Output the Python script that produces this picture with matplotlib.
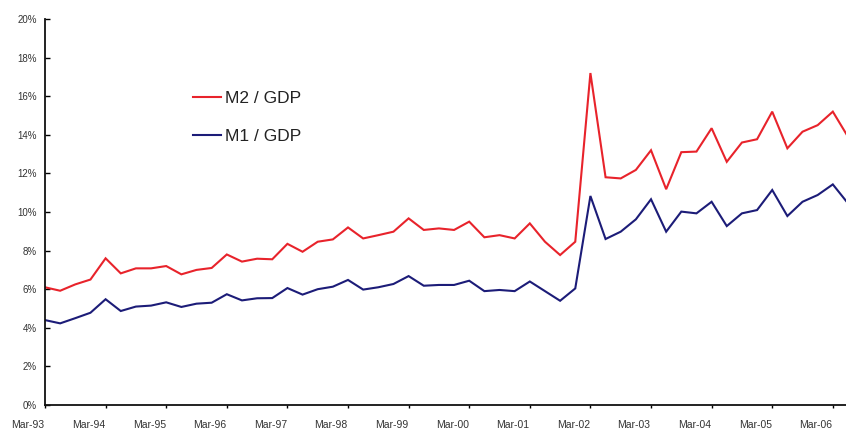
import matplotlib
matplotlib.use("Agg")
import matplotlib.pyplot as plt
from matplotlib.transforms import ScaledTranslation

plt.rcParams['font.family'] = ['Liberation Sans', 'DejaVu Sans']

years = ['93', '94', '95', '96', '97', '98', '99', '00', '01', '02', '03', '04', '05', '06']
months = ['Mar', 'Jun', 'Sep', 'Dec']
quarters = [f'{m}-{y}' for y in years for m in months][:54]

m2_gdp = [6.10, 5.92, 6.25, 6.50, 7.60, 6.82, 7.08, 7.08, 7.20, 6.77,
          7.00, 7.10, 7.80, 7.43, 7.58, 7.55, 8.35, 7.94, 8.46, 8.58,
          9.20, 8.63, 8.80, 8.98, 9.67, 9.07, 9.15, 9.07, 9.50, 8.69,
          8.80, 8.63, 9.41, 8.46, 7.77, 8.46, 17.20, 11.80, 11.74, 12.18,
          13.20, 11.18, 13.10, 13.13, 14.34, 12.60, 13.60, 13.77, 15.20, 13.30,
          14.16, 14.50, 15.20, 13.90]
m1_gdp = [4.40, 4.23, 4.50, 4.78, 5.48, 4.87, 5.10, 5.15, 5.32, 5.08,
          5.25, 5.30, 5.74, 5.42, 5.53, 5.54, 6.06, 5.72, 6.00, 6.13,
          6.48, 5.98, 6.10, 6.27, 6.68, 6.18, 6.22, 6.22, 6.44, 5.90,
          5.96, 5.90, 6.40, 5.90, 5.40, 6.04, 10.83, 8.60, 8.98, 9.62,
          10.66, 8.98, 10.02, 9.93, 10.53, 9.27, 9.93, 10.10, 11.14, 9.79,
          10.53, 10.88, 11.43, 10.45]

y_ticks = [0, 2, 4, 6, 8, 10, 12, 14, 16, 18, 20]
y_labels = [f'{v}%' for v in y_ticks]

W, H = 846, 429
fig = plt.figure(figsize=(W / 100, H / 100), dpi=100)
ax = fig.add_axes([45 / W, (H - 405) / H, 1 - 45 / W, (405 - 19) / H])

x = list(range(len(quarters)))
ax.plot(x, m2_gdp, color='#e8232b', lw=1.5, label='M2 / GDP', solid_joinstyle='miter')
ax.plot(x, m1_gdp, color='#1c1c78', lw=1.5, label='M1 / GDP', solid_joinstyle='miter')

ax.set_xlim(0, 52.87)
ax.set_ylim(0, 20)
ax.set_yticks(y_ticks)
ax.set_yticklabels(y_labels)
xt = [i for i, q in enumerate(quarters) if q.startswith('Mar')]
ax.set_xticks(xt)
ax.set_xticklabels([quarters[i] for i in xt])

for s in ['top', 'right']:
    ax.spines[s].set_visible(False)
for s in ['left', 'bottom']:
    ax.spines[s].set_linewidth(1.3)
    ax.spines[s].set_color('#111111')

ax.tick_params(axis='y', direction='in', length=3.5, width=1, pad=6,
               labelsize=7, labelcolor='#333333')
ax.tick_params(axis='x', direction='out', length=2, width=1, pad=9,
               labelsize=7.5, labelcolor='#333333')
off = ScaledTranslation(-17 / 100, 0, fig.dpi_scale_trans)
for lab in ax.get_xticklabels():
    lab.set_transform(lab.get_transform() + off)

leg = ax.legend(loc='upper left', bbox_to_anchor=(193 / W, 1 - 91 / H),
                bbox_transform=fig.transFigure, frameon=False,
                fontsize=12.5, handlelength=1.6, handletextpad=0.25,
                labelspacing=1.3, borderpad=0, borderaxespad=0)
for t in leg.get_texts():
    t.set_color('#222222')

fig.savefig('out.png', dpi=100)
